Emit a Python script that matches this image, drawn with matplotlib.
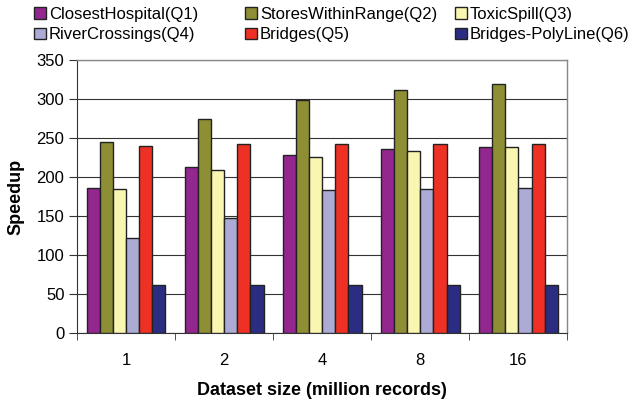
import matplotlib
matplotlib.use("Agg")
import matplotlib.pyplot as plt
import numpy as np
from matplotlib.patches import Patch

plt.rcParams['font.family'] = ['Liberation Sans', 'DejaVu Sans']

categories = ["1", "2", "4", "8", "16"]
series_names = ["ClosestHospital(Q1)", "StoresWithinRange(Q2)", "ToxicSpill(Q3)",
                "RiverCrossings(Q4)", "Bridges(Q5)", "Bridges-PolyLine(Q6)"]
q1 = [186, 213, 229, 236, 239]
q2 = [245, 275, 299, 312, 319]
q3 = [185, 209, 226, 233, 238]
q4 = [122, 148, 183, 185, 186]
q5 = [240, 242, 242, 242, 243]
q6 = [62, 62, 62, 62, 62]
series = [q1, q2, q3, q4, q5, q6]
colors = ["#93278F", "#8E8F35", "#F8F6B0", "#ABABD6", "#EE3124", "#2B2D82"]
yticks = [0, 50, 100, 150, 200, 250, 300, 350]

W, H = 632, 403
fig = plt.figure(figsize=(W / 100, H / 100), dpi=100)
ax = fig.add_axes([0.1218, 0.173, 0.776, 0.678])

n = len(series)
bw = 0.134
x = np.arange(len(categories))
for i, (vals, c) in enumerate(zip(series, colors)):
    offs = (i - (n - 1) / 2) * bw
    ax.bar(x + offs, vals, width=bw, color=c, edgecolor="#222222", linewidth=1.0, zorder=3)

ax.set_xlim(-0.5, len(categories) - 0.5)
ax.set_ylim(0, 350)
ax.set_yticks(yticks)
ax.set_yticklabels([str(v) for v in yticks], fontsize=12)
ax.yaxis.grid(True, color="#333333", linewidth=0.8, zorder=0)
ax.set_xticks(x)
ax.set_xticklabels(categories, fontsize=12)
ax.tick_params(axis='x', length=0, pad=14.3)
ax.set_xticks(np.arange(len(categories) + 1) - 0.5, minor=True)
ax.tick_params(axis='x', which='minor', length=5, direction='out', color='#333333')
ax.tick_params(axis='y', length=6, direction='out', color='#333333', pad=3)
for s in ['top', 'right']:
    ax.spines[s].set_color('#888888')
    ax.spines[s].set_linewidth(1.0)
ax.spines['left'].set_color('#333333')
ax.spines['bottom'].set_color('#333333')

ax.set_xlabel("Dataset size (million records)", fontsize=13, fontweight='bold', labelpad=10)
ax.set_ylabel("Speedup", fontsize=13, fontweight='bold', labelpad=8.5)

handles = [Patch(facecolor=c, edgecolor="#222222", linewidth=1.0) for c in colors]
col_x = [34, 245, 455]
for j in range(3):
    idx = [j, j + 3]
    fig.legend([handles[i] for i in idx], [series_names[i] for i in idx],
               loc='upper left', bbox_to_anchor=(col_x[j] / W, 1 - 7 / H),
               frameon=False, fontsize=12, handlelength=0.72, handleheight=0.68,
               handletextpad=0.18, labelspacing=0.32, borderpad=0, borderaxespad=0)

fig.savefig("out.png", dpi=100)
